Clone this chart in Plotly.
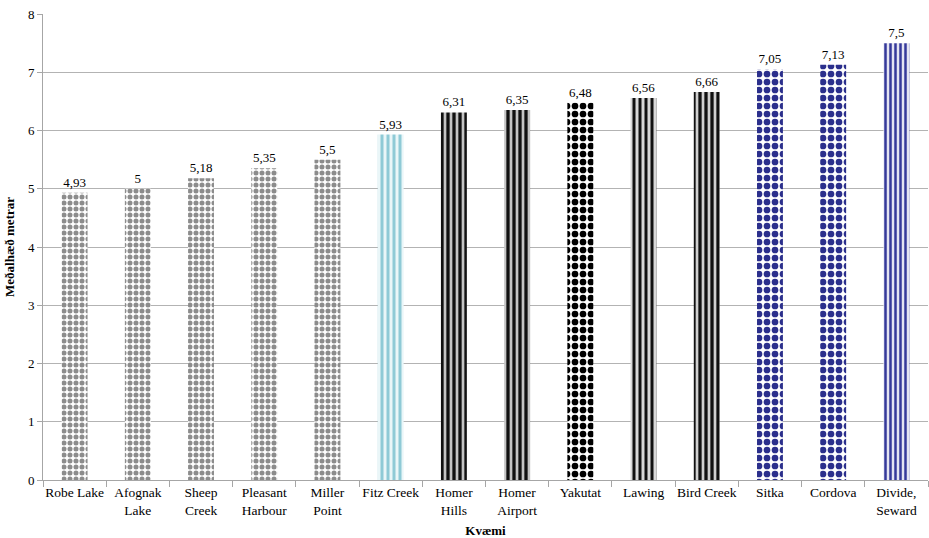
import plotly.graph_objects as go

categories = ["Robe Lake", "Afognak<br>Lake", "Sheep<br>Creek", "Pleasant<br>Harbour", "Miller<br>Point",
              "Fitz Creek", "Homer<br>Hills", "Homer<br>Airport", "Yakutat", "Lawing", "Bird Creek",
              "Sitka", "Cordova", "Divide,<br>Seward"]
values = [4.93, 5.0, 5.18, 5.35, 5.5, 5.93, 6.31, 6.35, 6.48, 6.56, 6.66, 7.05, 7.13, 7.5]
labels = ["4,93", "5", "5,18", "5,35", "5,5", "5,93", "6,31", "6,35", "6,48", "6,56", "6,66", "7,05", "7,13", "7,5"]

shapes = ["."] * 5 + ["|", "|", "|", ".", "|", "|", ".", ".", "|"]
fg = ["#8c8c8c"] * 5 + ["#8fcad6", "#111111", "#111111", "#000000", "#111111", "#111111",
                        "#2b2f8c", "#2b2f8c", "#35399a"]
bg = ["#ffffff"] * 5 + ["#eaf6f8", "#c4c4c4", "#c4c4c4", "#ffffff", "#d8d8d8", "#d0d0d0",
                        "#ffffff", "#ffffff", "#e4e4f2"]
psize = [6] * 5 + [6, 6, 6, 8, 6, 6, 8, 8, 5]
solid = [0.55] * 5 + [0.5, 0.55, 0.55, 0.55, 0.5, 0.55, 0.55, 0.55, 0.5]

font = "Liberation Serif"

fig = go.Figure()
for i in range(len(categories)):
    fig.add_trace(go.Bar(
        x=[categories[i]], y=[values[i]], text=[labels[i]], textposition="outside",
        textfont=dict(family=font, size=13, color="#000000"),
        cliponaxis=False,
        marker=dict(color=bg[i], line=dict(width=0),
                    pattern=dict(shape=shapes[i], fgcolor=fg[i], size=psize[i],
                                 solidity=solid[i], fillmode="overlay", fgopacity=1)),
        width=0.41,
    ))

fig.update_layout(
    width=929, height=538,
    margin=dict(l=43, r=1, t=14, b=58),
    barmode="overlay",
    plot_bgcolor="white", paper_bgcolor="white",
    showlegend=False,
    font=dict(family=font, size=13, color="#000000"),
    xaxis=dict(
        title=dict(text="<b>Kvæmi</b>", font=dict(family=font, size=13), standoff=10),
        showline=True, linecolor="#a6a6a6", linewidth=1,
        ticks="outside", tickson="boundaries", ticklen=6, tickcolor="#a6a6a6",
        tickfont=dict(family=font, size=13.5), tickangle=0, showgrid=False,
        categoryorder="array", categoryarray=categories,
    ),
    yaxis=dict(
        title=dict(text="<b>Meðalhæð metrar</b>", font=dict(family=font, size=13), standoff=10),
        range=[0, 8], dtick=1,
        showline=True, linecolor="#a6a6a6", linewidth=1,
        ticks="outside", ticklen=5, tickcolor="#a6a6a6",
        gridcolor="#b3b3b3", gridwidth=1,
        tickfont=dict(family=font, size=13), zeroline=False,
    ),
)

fig.write_html("out.html", config={"displayModeBar": False},
               post_script="document.body.style.margin='0';document.body.style.overflow='hidden';")
